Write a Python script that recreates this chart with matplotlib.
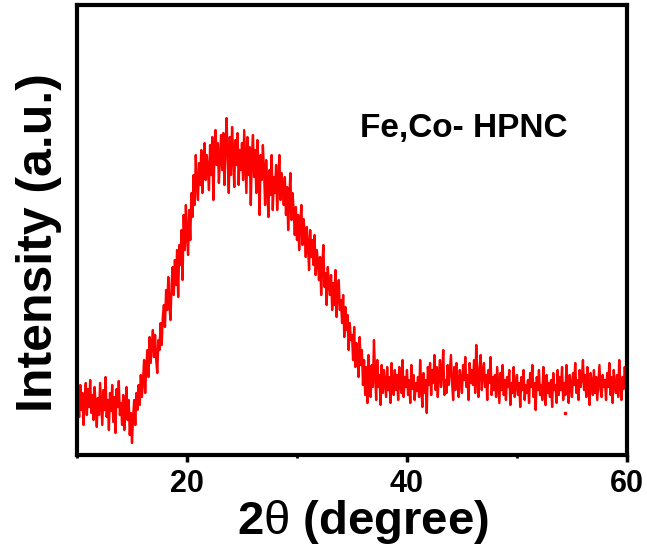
import numpy as np
import matplotlib.pyplot as plt

plt.rcParams['font.family'] = ['Liberation Sans', 'DejaVu Sans']
# theta is drawn thin/upright like in the original figure
plt.rcParams['mathtext.fontset'] = 'custom'
plt.rcParams['mathtext.rm'] = 'Liberation Sans:normal'
plt.rcParams['mathtext.default'] = 'rm'

# XRD scan, 10-60 deg, 0.1 deg step (one row = one degree)
intensity = [
    12, 55, 38, 70, 45, 62, 30, 58, 72, 40,            # 10
    66, 48, 75, 42, 60, 35, 68, 50, 28, 57,            # 11
    40, 72, 52, 30, 65, 45, 78, 38, 55, 25,            # 12
    62, 44, 70, 33, 58, 22, 66, 48, 74, 40,            # 13
    52, 30, 60, 25, 48, 68, 35, 55, 20, 42,            # 14
    12, 38, 55, 30, 62, 45, 70, 50, 80, 58,            # 15
    75, 95, 62, 88, 105, 78, 118, 92, 110, 125,        # 16
    98, 120, 95, 82, 115, 105, 132, 110, 138, 150,     # 17
    128, 165, 145, 178, 150, 135, 170, 188, 160, 195,  # 18
    170, 205, 158, 210, 190, 225, 175, 240, 205, 250,  # 19
    220, 200, 245, 215, 262, 238, 280, 250, 300, 268,  # 20
    255, 292, 270, 305, 262, 290, 312, 275, 300, 285,  # 21
    265, 310, 280, 318, 255, 300, 325, 290, 312, 272,  # 22
    298, 320, 285, 322, 270, 308, 337, 295, 262, 318,  # 23
    280, 328, 300, 268, 315, 290, 322, 270, 305, 285,  # 24
    312, 275, 325, 292, 262, 318, 280, 308, 250, 300,  # 25
    320, 278, 305, 262, 315, 290, 240, 300, 275, 310,  # 26
    285, 250, 295, 268, 238, 285, 260, 300, 245, 278,  # 27
    262, 290, 245, 275, 300, 255, 282, 268, 250, 278,  # 28
    240, 268, 225, 258, 282, 235, 262, 245, 220, 248,  # 29
    215, 240, 205, 232, 250, 210, 236, 222, 198, 228,  # 30
    208, 185, 225, 198, 215, 190, 220, 180, 205, 195,  # 31
    175, 198, 160, 190, 210, 168, 182, 150, 188, 172,  # 32
    160, 180, 145, 172, 150, 185, 138, 162, 175, 145,  # 33
    155, 132, 160, 118, 148, 125, 140, 105, 132, 115,  # 34
    120, 95, 128, 88, 112, 100, 78, 118, 90, 105,      # 35
    70, 95, 60, 88, 52, 100, 75, 58, 90, 68,           # 36
    115, 82, 55, 95, 68, 80, 50, 90, 62, 85,           # 37
    72, 58, 88, 65, 78, 52, 92, 70, 60, 85,            # 38
    65, 80, 55, 88, 70, 62, 95, 58, 78, 68,            # 39
    85, 60, 75, 52, 90, 66, 80, 55, 72, 64,            # 40
    78, 58, 95, 68, 48, 82, 62, 75, 42, 88,            # 41
    70, 92, 60, 85, 72, 100, 65, 88, 58, 80,           # 42
    95, 68, 82, 105, 60, 75, 62, 90, 70, 85,           # 43
    100, 72, 55, 88, 65, 92, 70, 58, 85, 75,           # 44
    62, 90, 75, 98, 68, 80, 55, 92, 72, 85,            # 45
    70, 95, 62, 110, 78, 58, 88, 100, 65, 82,          # 46
    92, 68, 80, 55, 85, 72, 98, 60, 78, 65,            # 47
    80, 58, 88, 70, 52, 82, 65, 90, 60, 75,            # 48
    55, 78, 68, 85, 50, 72, 62, 88, 58, 70,            # 49
    80, 60, 72, 48, 78, 65, 85, 55, 70, 62,            # 50
    75, 52, 82, 68, 90, 58, 72, 45, 78, 65,            # 51
    85, 60, 70, 55, 88, 66, 50, 80, 62, 72,            # 52
    58, 75, 48, 82, 65, 70, 52, 85, 60, 78,            # 53
    65, 88, 55, 72, 60, 90, 68, 52, 80, 70,            # 54
    58, 82, 70, 92, 62, 75, 55, 85, 68, 78,            # 55
    95, 65, 80, 58, 88, 70, 50, 82, 72, 60,            # 56
    85, 62, 78, 55, 72, 90, 65, 58, 80, 68,            # 57
    75, 55, 82, 68, 92, 60, 78, 52, 85, 70,            # 58
    62, 80, 58, 95, 70, 55, 78, 66, 88, 72,            # 59
    70,                                                # 60
]
two_theta = np.linspace(10, 60, len(intensity))

# lone stray point below the baseline
stray_x = [54.4]
stray_y = [42]

sample_label = 'Fe,Co- HPNC'
x_ticks = [20, 40, 60]
x_minor = [10, 30, 50]

fig = plt.figure(figsize=(6.47, 5.6), dpi=100)
ax = fig.add_axes([0.119, 0.1875, 0.850, 0.8035])

ax.plot(two_theta, intensity, color='#ff0000', lw=1.7)
ax.plot(stray_x, stray_y, 's', color='#ff0000', ms=2)

ax.set_xlim(10, 60)
ax.set_ylim(0, 450)
ax.set_xticks(x_ticks)
ax.set_xticks(x_minor, minor=True)
ax.set_yticks([])

ax.tick_params(axis='x', which='major', direction='out', length=5, width=2.5,
               labelsize=22, pad=5)
ax.tick_params(axis='x', which='minor', direction='out', length=2, width=2)
for lab in ax.get_xticklabels():
    lab.set_fontweight('bold')

for sp in ax.spines.values():
    sp.set_linewidth(3)

ax.set_xlabel(r'2$\theta$ (degree)', fontsize=34, fontweight='bold')
ax.set_ylabel('Intensity (a.u.)', fontsize=36, fontweight='bold')
ax.xaxis.set_label_coords(0.52, -0.095)
ax.yaxis.set_label_coords(-0.027, 0.473)

ax.text(0.515, 0.707, sample_label, transform=ax.transAxes, fontsize=24,
        fontweight='bold', ha='left', va='baseline')

plt.savefig('out.png', dpi=100)
